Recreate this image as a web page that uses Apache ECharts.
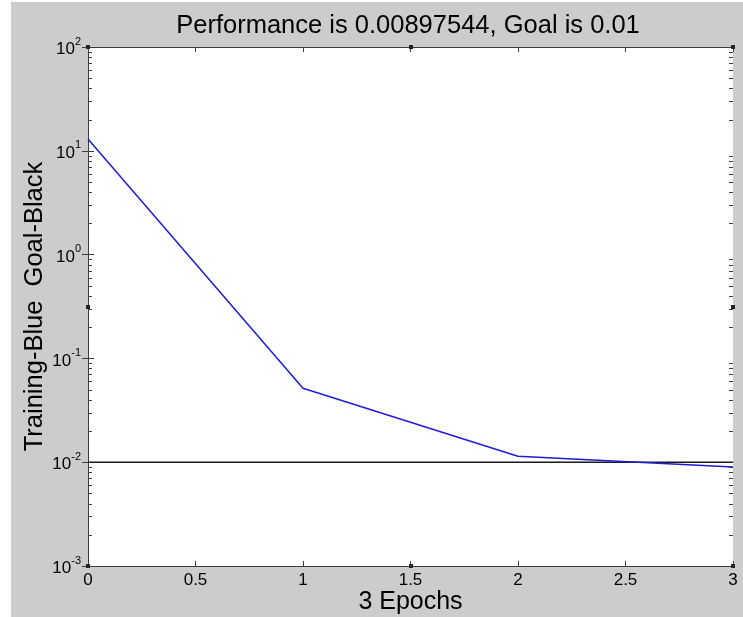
<!DOCTYPE html>
<html>
<head>
<meta charset="utf-8">
<script src="https://cdn.jsdelivr.net/npm/echarts@6/dist/echarts.min.js"></script>
<style>
  html, body { margin: 0; padding: 0; background: #fff; }
  #main { position: absolute; left: 11px; top: 2px; width: 732px; height: 615px; background: #cccccc; }
</style>
</head>
<body>
<div id="main"></div>
<script>
// epochs and performance values
var epochs = [0, 1, 2, 3];
var trainPerf = [13.0, 0.0515, 0.0114, 0.00897544];
var goal = 0.01;
var titleText = 'Performance is 0.00897544, Goal is 0.01';

var trainData = epochs.map(function (e, i) { return [e, trainPerf[i]]; });
var goalData = [[epochs[0], goal], [epochs[epochs.length - 1], goal]];

// minor log ticks 2..9 for each decade
var minorTicks = [];
for (var d = -3; d < 2; d++) {
    for (var k = 2; k <= 9; k++) {
        minorTicks.push([0, k * Math.pow(10, d)]);
    }
}

function yLabel(v) {
    var e = Math.round(Math.log(v) / Math.LN10);
    return '{b|10}{s|' + e + '}';
}

var axisColor = '#3c3c3c';

var myChart = echarts.init(document.getElementById('main'));
var option = {
    animation: false,
    backgroundColor: '#cccccc',
    title: {
        text: titleText,
        left: 392,
        top: 6,
        textAlign: 'center',
        textStyle: { fontFamily: 'Liberation Sans', fontSize: 25.5, fontWeight: 'normal', color: '#000' }
    },
    grid: {
        left: 77, top: 45, right: 10, bottom: 51, outerBoundsMode: 'none',
        show: true, backgroundColor: '#fff', borderWidth: 0
    },
    xAxis: [{
        type: 'value', min: 0, max: 3, interval: 0.5, position: 'bottom',
        name: '3 Epochs', nameLocation: 'middle', nameGap: 24, nameMoveOverlap: false,
        nameTextStyle: { fontFamily: 'Liberation Sans', fontSize: 25, color: '#000' },
        axisLine: { lineStyle: { color: axisColor, width: 1 } },
        axisTick: { inside: true, length: 5, lineStyle: { color: axisColor } },
        axisLabel: { fontFamily: 'Liberation Sans', fontSize: 17, color: '#000', margin: 6 },
        splitLine: { show: false }
    }, {
        type: 'value', min: 0, max: 3, interval: 0.5, position: 'top',
        axisLine: { lineStyle: { color: axisColor, width: 1 } },
        axisTick: { inside: true, length: 5, lineStyle: { color: axisColor } },
        axisLabel: { show: false },
        splitLine: { show: false }
    }],
    yAxis: [{
        type: 'log', logBase: 10, min: 0.001, max: 100, position: 'left',
        name: 'Training-Blue  Goal-Black', nameLocation: 'middle', nameGap: 40, nameRotate: 90,
        nameMoveOverlap: false,
        nameTextStyle: { fontFamily: 'Liberation Sans', fontSize: 25.5, color: '#000' },
        axisLine: { lineStyle: { color: axisColor, width: 1 } },
        axisTick: { inside: true, length: 6, lineStyle: { color: axisColor } },
        axisLabel: {
            formatter: yLabel, margin: 7, color: '#000',
            rich: {
                b: { fontFamily: 'Liberation Sans', fontSize: 17, color: '#000', lineHeight: 22, verticalAlign: 'bottom' },
                s: { fontFamily: 'Liberation Sans', fontSize: 11, color: '#000', lineHeight: 22, verticalAlign: 'top' }
            }
        },
        splitLine: { show: false }
    }, {
        type: 'log', logBase: 10, min: 0.001, max: 100, position: 'right',
        axisLine: { lineStyle: { color: axisColor, width: 1 } },
        axisTick: { inside: true, length: 6, lineStyle: { color: axisColor } },
        axisLabel: { show: false },
        splitLine: { show: false }
    }],
    series: [{
        name: 'Goal', type: 'line', data: goalData, showSymbol: false,
        lineStyle: { color: '#1a1a1a', width: 1.5 }, z: 3
    }, {
        name: 'Training', type: 'line', data: trainData, showSymbol: false,
        lineStyle: { color: '#1c1cd8', width: 1.5 }, z: 4
    }, {
        type: 'custom', data: minorTicks, silent: true, z: 2,
        renderItem: function (params, api) {
            var cs = params.coordSys;
            var y = Math.round(api.coord([0, api.value(1)])[1]) + 0.5;
            var st = { stroke: axisColor, lineWidth: 1 };
            return {
                type: 'group',
                children: [
                    { type: 'line', shape: { x1: cs.x, y1: y, x2: cs.x + 4, y2: y }, style: st },
                    { type: 'line', shape: { x1: cs.x + cs.width - 4, y1: y, x2: cs.x + cs.width, y2: y }, style: st }
                ]
            };
        }
    }, {
        // selection handles at corners and mid points of the axes box
        type: 'custom', data: [[0, 1]], silent: true, z: 5,
        renderItem: function (params, api) {
            var cs = params.coordSys;
            var pts = [
                [cs.x, cs.y], [cs.x + cs.width / 2, cs.y], [cs.x + cs.width, cs.y],
                [cs.x, cs.y + cs.height / 2], [cs.x + cs.width, cs.y + cs.height / 2],
                [cs.x, cs.y + cs.height], [cs.x + cs.width / 2, cs.y + cs.height], [cs.x + cs.width, cs.y + cs.height]
            ];
            return {
                type: 'group',
                children: pts.map(function (p) {
                    return { type: 'rect', shape: { x: Math.round(p[0]) - 2, y: Math.round(p[1]) - 2, width: 4, height: 4 }, style: { fill: '#222' } };
                })
            };
        }
    }]
};
myChart.setOption(option);
</script>
</body>
</html>
